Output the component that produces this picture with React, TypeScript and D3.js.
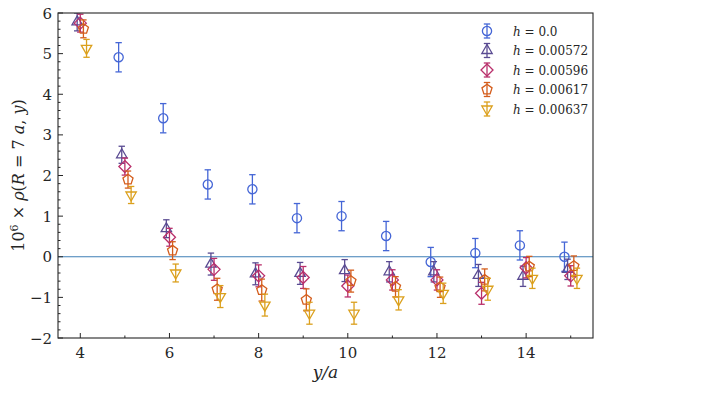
import React from 'react';
import * as d3 from 'd3';

// data
const xsAll = [4, 5, 6, 7, 8, 9, 10, 11, 12, 13, 14, 15];
const xsBlue = [5, 6, 7, 8, 9, 10, 11, 12, 13, 14, 15];
const rhoH0 = [4.91, 3.41, 1.78, 1.66, 0.95, 1.0, 0.51, -0.13, 0.09, 0.28, 0.0];
const errH0 = [0.36, 0.36, 0.36, 0.36, 0.36, 0.36, 0.36, 0.36, 0.36, 0.36, 0.36];
const rhoH572 = [5.78, 2.51, 0.69, -0.18, -0.42, -0.41, -0.34, -0.37, -0.37, -0.46, -0.48, -0.31];
const rhoH596 = [5.75, 2.22, 0.48, -0.31, -0.47, -0.51, -0.72, -0.57, -0.57, -0.9, -0.27, -0.47];
const rhoH617 = [5.61, 1.9, 0.15, -0.8, -0.82, -1.06, -0.6, -0.74, -0.75, -0.57, -0.24, -0.23];
const rhoH637 = [5.13, 1.52, -0.4, -0.98, -1.19, -1.39, -1.39, -1.06, -0.9, -0.8, -0.53, -0.53];
const errH = [0.22, 0.21, 0.22, 0.27, 0.27, 0.27, 0.27, 0.25, 0.25, 0.27, 0.25, 0.25];
const legendLabels = ['0.0', '0.00572', '0.00596', '0.00617', '0.00637'];
const xTicks = [4, 6, 8, 10, 12, 14];
const yTicks = [-2, -1, 0, 1, 2, 3, 4, 5, 6];

type Shape = 'circle' | 'tri' | 'diamond' | 'pent' | 'tridown';

interface Series {
  label: string;
  xs: number[];
  ys: number[];
  err: number[];
  color: string;
  shape: Shape;
  shift: number;
}

const series: Series[] = [
  { label: legendLabels[0], xs: xsBlue, ys: rhoH0, err: errH0, color: '#4566d6', shape: 'circle', shift: -0.14 },
  { label: legendLabels[1], xs: xsAll, ys: rhoH572, err: errH, color: '#5a4b92', shape: 'tri', shift: -0.07 },
  { label: legendLabels[2], xs: xsAll, ys: rhoH596, err: errH, color: '#b92f6b', shape: 'diamond', shift: 0 },
  { label: legendLabels[3], xs: xsAll, ys: rhoH617, err: errH, color: '#d45d1c', shape: 'pent', shift: 0.07 },
  { label: legendLabels[4], xs: xsAll, ys: rhoH637, err: errH, color: '#dba01d', shape: 'tridown', shift: 0.14 },
];

// regular polygon marker centred on the origin
const polygon = (n: number, r: number, rot: number) => {
  const p = d3.path();
  for (let i = 0; i < n; i++) {
    const a = rot + (i * 2 * Math.PI) / n;
    const px = r * Math.sin(a);
    const py = -r * Math.cos(a);
    if (i === 0) p.moveTo(px, py);
    else p.lineTo(px, py);
  }
  p.closePath();
  return p.toString();
};

const markerPath = (shape: Shape) => {
  switch (shape) {
    case 'circle':
      return d3.symbol(d3.symbolCircle, Math.PI * 4.6 * 4.6)() as string;
    case 'tri':
      return polygon(3, 6, 0);
    case 'diamond':
      return polygon(4, 6, 0);
    case 'pent':
      return polygon(5, 5.3, 0);
    default:
      return polygon(3, 6, Math.PI);
  }
};

const W = 721;
const H = 409;
const margin = { top: 13, right: 128, bottom: 71, left: 58 };
const serif = "'DejaVu Serif', serif";
const ink = '#262626';

const App: React.FC = () => {
  const x = d3.scaleLinear().domain([3.5, 15.5]).range([margin.left, W - margin.right]);
  const y = d3.scaleLinear().domain([-2, 6]).range([H - margin.bottom, margin.top]);
  const [x0, x1] = x.range();
  const [y0, y1] = y.range();

  const yMinor = d3.range(-2, 6.001, 0.2).filter((v) => Math.abs(v - Math.round(v)) > 1e-6);
  const xMinor = [5, 7, 9, 11, 13, 15];

  return (
    <svg
      width={W}
      height={H}
      style={{ position: 'absolute', left: 0, top: 0, background: '#fff', fontFamily: serif }}
    >
      <defs>
        <clipPath id="plot">
          <rect x={x0} y={y1} width={x1 - x0} height={y0 - y1} />
        </clipPath>
      </defs>

      {/* zero line */}
      <line x1={x0} x2={x1} y1={y(0)} y2={y(0)} stroke="#3f7fb6" strokeWidth={1.1} />

      {/* data */}
      <g clipPath="url(#plot)">
        {series.map((s) => (
          <g key={s.label} stroke={s.color} fill="none" strokeWidth={1.3}>
            {s.xs.map((xv, i) => {
              const cx = x(xv + s.shift);
              const cy = y(s.ys[i]);
              const top = y(s.ys[i] + s.err[i]);
              const bot = y(s.ys[i] - s.err[i]);
              return (
                <g key={i}>
                  <line x1={cx} x2={cx} y1={top} y2={bot} />
                  <line x1={cx - 3.2} x2={cx + 3.2} y1={top} y2={top} />
                  <line x1={cx - 3.2} x2={cx + 3.2} y1={bot} y2={bot} />
                  <path d={markerPath(s.shape)} transform={`translate(${cx},${cy})`} />
                </g>
              );
            })}
          </g>
        ))}
      </g>

      {/* frame */}
      <rect x={x0} y={y1} width={x1 - x0} height={y0 - y1} fill="none" stroke={ink} strokeWidth={1.1} />

      {/* x ticks */}
      {xTicks.map((t) => (
        <g key={'xt' + t}>
          <line x1={x(t)} x2={x(t)} y1={y0} y2={y0 - 5} stroke={ink} />
          <text x={x(t)} y={y0 + 20} textAnchor="middle" fontSize={15} fill={ink}>
            {t}
          </text>
        </g>
      ))}
      {xMinor.map((t) => (
        <line key={'xm' + t} x1={x(t)} x2={x(t)} y1={y0} y2={y0 - 2.5} stroke={ink} />
      ))}

      {/* y ticks */}
      {yTicks.map((t) => (
        <g key={'yt' + t}>
          <line x1={x0} x2={x0 + 5} y1={y(t)} y2={y(t)} stroke={ink} />
          <text x={x0 - 6} y={y(t) + 5.5} textAnchor="end" fontSize={15} fill={ink}>
            {t < 0 ? '\u2212' + Math.abs(t) : t}
          </text>
        </g>
      ))}
      {yMinor.map((t) => (
        <line key={'ym' + t.toFixed(1)} x1={x0} x2={x0 + 2.5} y1={y(t)} y2={y(t)} stroke={ink} />
      ))}

      {/* axis labels */}
      <text x={(x0 + x1) / 2} y={378} textAnchor="middle" fontSize={17} fill={ink} fontStyle="italic">
        y/a
      </text>
      <text
        transform={`translate(24,${(y0 + y1) / 2}) rotate(-90)`}
        textAnchor="middle"
        fontSize={16}
        fill={ink}
      >
        <tspan>10</tspan>
        <tspan dy={-6} fontSize={11}>6</tspan>
        <tspan dy={6}> × </tspan>
        <tspan fontStyle="italic">ρ</tspan>
        <tspan>(</tspan>
        <tspan fontStyle="italic">R</tspan>
        <tspan> = 7 </tspan>
        <tspan fontStyle="italic">a</tspan>
        <tspan>, </tspan>
        <tspan fontStyle="italic">y</tspan>
        <tspan>)</tspan>
      </text>

      {/* legend */}
      {series.map((s, i) => {
        const ly = 31 + i * 19.5;
        const lx = 487;
        return (
          <g key={'lg' + s.label}>
            <g stroke={s.color} fill="none" strokeWidth={1.3}>
              <line x1={lx} x2={lx} y1={ly - 7} y2={ly + 7} />
              <line x1={lx - 3.2} x2={lx + 3.2} y1={ly - 7} y2={ly - 7} />
              <line x1={lx - 3.2} x2={lx + 3.2} y1={ly + 7} y2={ly + 7} />
              <path d={markerPath(s.shape)} transform={`translate(${lx},${ly})`} />
            </g>
            <text x={513} y={ly + 4.5} fontSize={12} fill={ink}>
              <tspan fontStyle="italic">h</tspan>
              <tspan> = {s.label}</tspan>
            </text>
          </g>
        );
      })}
    </svg>
  );
};

export default App;
